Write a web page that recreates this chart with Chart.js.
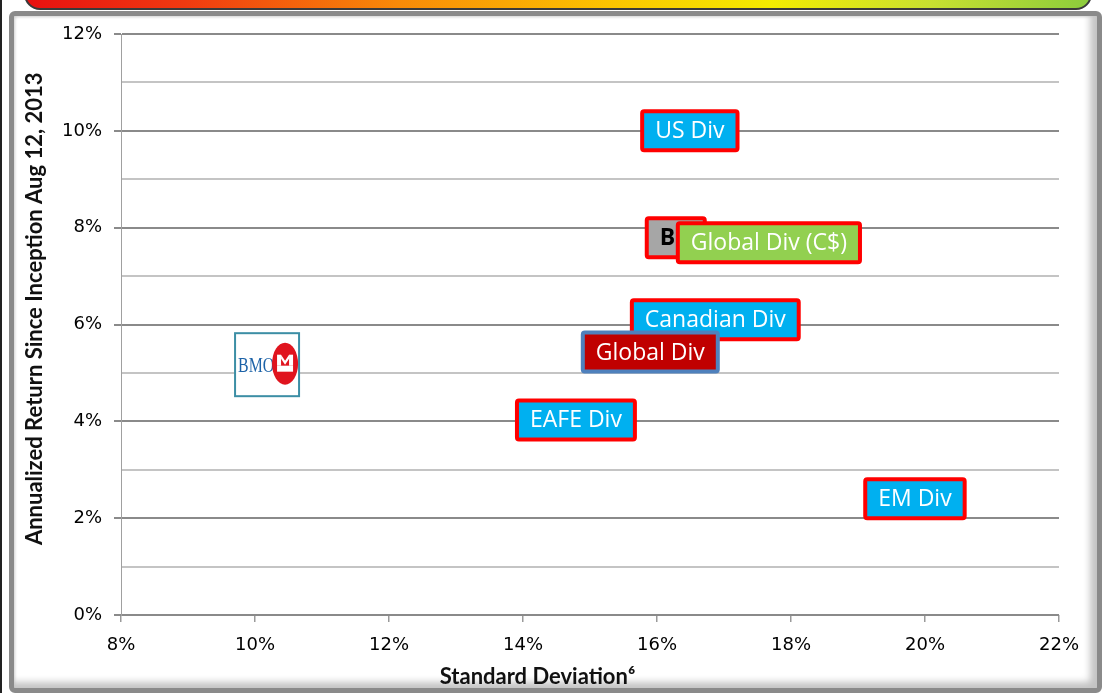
<!DOCTYPE html>
<html>
<head>
<meta charset="utf-8">
<script src="https://cdn.jsdelivr.net/npm/chart.js@4/dist/chart.umd.min.js"></script>
<style>
  html, body { margin: 0; padding: 0; background: #ffffff; }
  #wrap { position: relative; width: 1112px; height: 693px; overflow: hidden; background: #fff; }
  #edge { position: absolute; left: 0; top: 0; width: 2px; height: 693px; background: #222; }
  #frame {
    position: absolute; left: 9px; top: 11px; width: 1083px; height: 672px;
    border: 5px solid #8a8a8a; border-radius: 6px;
    box-shadow: inset -10px -9px 7px -3px #c4c4c4, inset 3px 3px 3px -2px #d0d0d0;
    background: #fff;
  }
  #banner {
    position: absolute; left: 24px; top: -12px; width: 1064px; height: 18px;
    border: 2px solid #3a3a3a; border-radius: 0 0 16px 16px;
    background: linear-gradient(to right, #e81010 0%, #f03a10 15%, #f88a08 35%, #fcc400 55%, #f4ec00 70%, #c8e030 85%, #8ccc3c 100%);
  }
  canvas { position: absolute; left: 0; top: 0; }
</style>
</head>
<body>
<div id="wrap">
  <div id="edge"></div>
  <div id="frame"></div>
  <div id="banner"></div>
  <canvas id="c" width="1112" height="693"></canvas>
</div>
<script>
// ---- data ----
const categories = ['US Div', 'B', 'Global Div (C$)', 'Canadian Div', 'Global Div', 'EAFE Div', 'EM Div', 'BMO'];
const stdDev     = [16.49, 16.28, 17.67, 16.87, 15.90, 14.79, 19.85, 10.18];
const annReturn  = [10.00, 7.79, 7.69, 6.10, 5.43, 4.03, 2.40, 5.17];
const xTicks = [8, 10, 12, 14, 16, 18, 20, 22];
const yTicks = [0, 2, 4, 6, 8, 10, 12];
const xTitle = 'Standard Deviation\u2076';
const yTitle = 'Annualized Return Since Inception Aug 12, 2013';

// ---- styles (by category) ----
const labelStyles = {
  'US Div':          { fill: '#00b0f0', border: '#ff0000', text: '#ffffff' },
  'B':               { fill: '#a6a6a6', border: '#ff0000', text: '#000000', bold: true, minWidth: 62, align: 'left' },
  'Global Div (C$)': { fill: '#92d050', border: '#ff0000', text: '#ffffff' },
  'Canadian Div':    { fill: '#00b0f0', border: '#ff0000', text: '#ffffff' },
  'Global Div':      { fill: '#c00000', border: '#4f81bd', text: '#ffffff' },
  'EAFE Div':        { fill: '#00b0f0', border: '#ff0000', text: '#ffffff' },
  'EM Div':          { fill: '#00b0f0', border: '#ff0000', text: '#ffffff' },
  'BMO':             { logo: true }
};

function roundRect(ctx, x, y, w, h, r) {
  ctx.beginPath();
  ctx.moveTo(x + r, y);
  ctx.lineTo(x + w - r, y); ctx.quadraticCurveTo(x + w, y, x + w, y + r);
  ctx.lineTo(x + w, y + h - r); ctx.quadraticCurveTo(x + w, y + h, x + w - r, y + h);
  ctx.lineTo(x + r, y + h); ctx.quadraticCurveTo(x, y + h, x, y + h - r);
  ctx.lineTo(x, y + r); ctx.quadraticCurveTo(x, y, x + r, y);
  ctx.closePath();
}

function drawBox(ctx, cx, cy, text, st) {
  ctx.font = (st.bold ? 'bold ' : '') + '23px "Open Sans"';
  const tw = ctx.measureText(text).width;
  const padX = 15;
  const w = Math.max(tw + 2 * padX, st.minWidth || 0), h = 43;
  const x0 = cx - w / 2, y0 = cy - h / 2;
  roundRect(ctx, x0 + 2, y0 + 2, w - 4, h - 4, 2);
  ctx.fillStyle = st.fill; ctx.fill();
  ctx.lineWidth = 4; ctx.strokeStyle = st.border; ctx.stroke();
  ctx.fillStyle = st.text;
  ctx.textBaseline = 'middle';
  if (st.align === 'left') {
    ctx.textAlign = 'left';
    ctx.fillText(text, x0 + padX, cy + 1);
  } else {
    ctx.textAlign = 'center';
    ctx.fillText(text, cx, cy + 1);
  }
}

function drawLogo(ctx, cx, cy) {
  const w = 64, h = 63;
  const x0 = cx - w / 2, y0 = cy - h / 2;
  ctx.fillStyle = '#ffffff'; ctx.fillRect(x0, y0, w, h);
  ctx.lineWidth = 2; ctx.strokeStyle = '#3c8ea5'; ctx.strokeRect(x0, y0, w, h);
  ctx.save();
  ctx.font = '18px "Liberation Serif"';
  ctx.fillStyle = '#1d63a8'; ctx.textAlign = 'left'; ctx.textBaseline = 'middle';
  ctx.translate(x0 + 3, cy + 2);
  ctx.scale(0.88, 1.15);
  ctx.fillText('BMO', 0, 0);
  ctx.restore();
  // red roundel
  const rx = x0 + 50, ry = cy - 1;
  ctx.fillStyle = '#e0141e';
  ctx.beginPath(); ctx.ellipse(rx, ry, 13, 21, 0, 0, Math.PI * 2); ctx.fill();
  // white "M-bar" emblem
  ctx.fillStyle = '#ffffff';
  ctx.fillRect(rx - 8, ry + 2, 16, 6);
  ctx.fillRect(rx - 8, ry - 9, 4, 11);
  ctx.fillRect(rx + 4, ry - 9, 4, 11);
  ctx.beginPath();
  ctx.moveTo(rx - 4, ry - 9); ctx.lineTo(rx, ry - 3); ctx.lineTo(rx + 4, ry - 9);
  ctx.lineTo(rx + 4, ry - 5); ctx.lineTo(rx, ry + 1); ctx.lineTo(rx - 4, ry - 5);
  ctx.closePath(); ctx.fill();
}

const labelPlugin = {
  id: 'boxLabels',
  afterDatasetsDraw(chart) {
    const ctx = chart.ctx;
    const meta = chart.getDatasetMeta(0);
    ctx.save();
    meta.data.forEach((pt, i) => {
      const name = categories[i];
      const st = labelStyles[name];
      if (st.logo) drawLogo(ctx, pt.x, pt.y);
      else drawBox(ctx, pt.x, pt.y, name, st);
    });
    ctx.restore();
  }
};

// axis titles (placed as in the original slide, not centred on the plot)
const titlePlugin = {
  id: 'axisTitles',
  afterDraw(chart) {
    const ctx = chart.ctx;
    const a = chart.chartArea;
    ctx.save();
    ctx.fillStyle = '#111';
    ctx.font = 'bold 22px Lato';
    ctx.textAlign = 'center'; ctx.textBaseline = 'middle';
    ctx.fillText(xTitle, a.left + (a.right - a.left) * 0.444, a.bottom + 62);
    ctx.translate(35, a.top + (a.bottom - a.top) * 0.473);
    ctx.rotate(-Math.PI / 2);
    ctx.fillText(yTitle, 0, 0);
    ctx.restore();
  }
};

const tickFont = { family: '"DejaVu Sans"', size: 18 };

new Chart(document.getElementById('c'), {
  type: 'scatter',
  data: {
    datasets: [{
      label: 'Funds',
      data: categories.map((c, i) => ({ x: stdDev[i], y: annReturn[i] })),
      pointRadius: 0,
      pointHoverRadius: 0
    }]
  },
  plugins: [labelPlugin, titlePlugin],
  options: {
    responsive: false,
    animation: false,
    events: [],
    layout: { padding: { left: 24, right: 53, top: 34, bottom: 3 } },
    plugins: { legend: { display: false }, tooltip: { enabled: false } },
    scales: {
      x: {
        type: 'linear',
        min: xTicks[0], max: xTicks[xTicks.length - 1],
        afterBuildTicks: s => { s.ticks = xTicks.map(v => ({ value: v })); },
        afterFit: s => { s.height = 75; },
        ticks: {
          color: '#000', font: tickFont, padding: 13, maxRotation: 0,
          callback: v => v + '%'
        },
        grid: { display: true, drawOnChartArea: false, drawTicks: true, tickLength: 7, color: '#9a9a9a', lineWidth: 1.5 },
        border: { display: false },
        title: { display: false }
      },
      y: {
        type: 'linear',
        min: yTicks[0], max: yTicks[yTicks.length - 1],
        afterBuildTicks: s => {
          const t = [];
          for (let v = yTicks[0]; v <= yTicks[yTicks.length - 1]; v += 1) t.push({ value: v });
          s.ticks = t;
        },
        afterFit: s => { s.width = 97; },
        ticks: {
          color: '#000', font: tickFont, padding: 12,
          callback: v => (yTicks.includes(v) ? v + '%' : '')
        },
        grid: {
          drawTicks: true, tickLength: 7,
          color: c => (c.tick && yTicks.includes(c.tick.value) ? '#8a8a8a' : '#c4c4c4'),
          tickColor: c => (c.tick && yTicks.includes(c.tick.value) ? '#8a8a8a' : 'rgba(0,0,0,0)'),
          lineWidth: 2
        },
        border: { display: true, color: '#a0a0a0', width: 1 },
        title: { display: false }
      }
    }
  }
});
</script>
</body>
</html>
